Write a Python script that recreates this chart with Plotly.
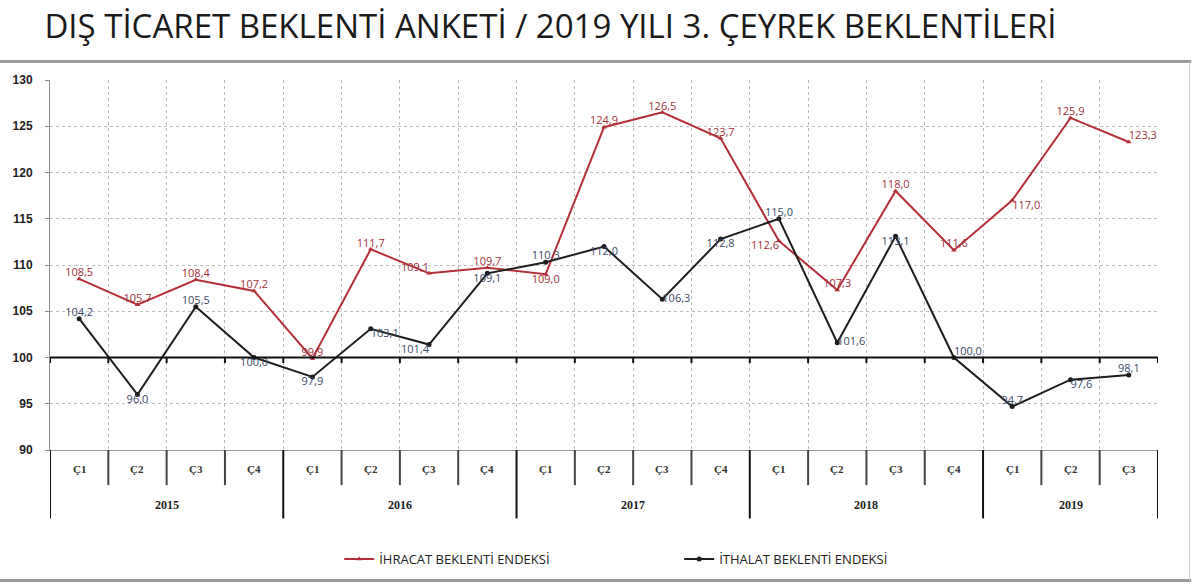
import plotly.graph_objects as go

years = ["2015", "2016", "2017", "2018", "2019"]
quarters_per_year = [4, 4, 4, 4, 3]
quarter_labels = ["Ç1", "Ç2", "Ç3", "Ç4"]

ihracat = [108.5, 105.7, 108.4, 107.2,
           99.9, 111.7, 109.1, 109.7,
           109.0, 124.9, 126.5, 123.7,
           112.6, 107.3, 118.0, 111.6,
           117.0, 125.9, 123.3]
ithalat = [104.2, 96.0, 105.5, 100.0,
           97.9, 103.1, 101.4, 109.1,
           110.3, 112.0, 106.3, 112.8,
           115.0, 101.6, 113.1, 100.0,
           94.7, 97.6, 98.1]

ihracat_pos = ["top center", "top center", "top center", "top center",
               "top center", "top center", "top left", "top center",
               "bottom center", "top center", "top center", "top center",
               "bottom left", "top center", "top center", "top center",
               "bottom right", "top center", "top right"]
ithalat_pos = ["top center", "bottom center", "top center", "bottom center",
               "bottom center", "bottom right", "bottom left", "bottom center",
               "top center", "bottom center", "middle right", "bottom center",
               "top center", "middle right", "bottom center", "top right",
               "top center", "bottom right", "top center"]

RED = "#b3303a"
RED_TXT = "#a3303a"
BLK = "#1e1e1e"
BLU_TXT = "#3d4b66"

qlabels = []
for y, n in zip(years, quarters_per_year):
    qlabels += quarter_labels[:n]
n_pts = len(qlabels)
xs = list(range(n_pts))

def fmt(v):
    return f"{v:.1f}".replace(".", ",")

fig = go.Figure()
fig.add_trace(go.Scatter(x=xs, y=ihracat, mode="lines+markers", name="İHRACAT BEKLENTİ ENDEKSİ",
                         line=dict(color=RED, width=2), marker=dict(size=5, color=RED, symbol="triangle-up")))
fig.add_trace(go.Scatter(x=xs, y=ithalat, mode="lines+markers", name="İTHALAT BEKLENTİ ENDEKSİ",
                         line=dict(color=BLK, width=2), marker=dict(size=5, color=BLK)))
fig.add_trace(go.Scatter(x=xs, y=ihracat, mode="text", text=[fmt(v) for v in ihracat],
                         textposition=ihracat_pos, showlegend=False,
                         textfont=dict(color=RED_TXT, size=11, family="Open Sans")))
fig.add_trace(go.Scatter(x=xs, y=ithalat, mode="text", text=[fmt(v) for v in ithalat],
                         textposition=ithalat_pos, showlegend=False,
                         textfont=dict(color=BLU_TXT, size=11, family="Open Sans")))

shapes = []
# horizontal reference line at 100
shapes.append(dict(type="line", xref="paper", yref="y", x0=0, x1=1, y0=100, y1=100,
                   line=dict(color="#111", width=2)))
bounds = [i - 0.5 for i in range(n_pts + 1)]
for b in bounds:
    shapes.append(dict(type="line", xref="x", yref="y", x0=b, x1=b, y0=100, y1=99.4,
                       line=dict(color="#111", width=2)))
# table lines
year_bounds = [-0.5]
acc = -0.5
for n in quarters_per_year:
    acc += n
    year_bounds.append(acc)
for b in bounds:
    if b in year_bounds:
        continue
    shapes.append(dict(type="line", xref="x", yref="paper", x0=b, x1=b, y0=0, y1=-0.095,
                       line=dict(color="#444", width=2)))
for b in year_bounds:
    shapes.append(dict(type="line", xref="x", yref="paper", x0=b, x1=b, y0=0, y1=-0.185,
                       line=dict(color="#111", width=2)))
# frame lines
shapes.append(dict(type="line", xref="paper", yref="paper", x0=-0.06, x1=1.03, y0=1.05, y1=1.05,
                   line=dict(color="#9a9a9a", width=3)))
shapes.append(dict(type="line", xref="paper", yref="paper", x0=-0.06, x1=1.03, y0=-0.353, y1=-0.353,
                   line=dict(color="#9a9a9a", width=3)))
shapes.append(dict(type="line", xref="paper", yref="paper", x0=1.0285, x1=1.0285, y0=1.05, y1=-0.353,
                   line=dict(color="#cfcfcf", width=1)))

annotations = []
for i, q in enumerate(qlabels):
    annotations.append(dict(x=i, y=-0.05, xref="x", yref="paper", text=f"<b>{q}</b>", showarrow=False,
                            font=dict(size=11, color="#333", family="Liberation Serif"), yanchor="middle"))
start = 0
for y, n in zip(years, quarters_per_year):
    annotations.append(dict(x=start + (n - 1) / 2, y=-0.148, xref="x", yref="paper", text=f"<b>{y}</b>",
                            showarrow=False, font=dict(size=12, color="#222", family="Liberation Serif"),
                            yanchor="middle"))
    start += n

fig.update_layout(
    width=1200, height=586,
    margin=dict(l=50, r=42, t=80, b=134),
    paper_bgcolor="white", plot_bgcolor="white",
    title=dict(text="DIŞ TİCARET BEKLENTİ ANKETİ / 2019 YILI 3. ÇEYREK BEKLENTİLERİ",
               x=0.037, xanchor="left", y=0.955, yanchor="middle",
               font=dict(size=33, color="#1a1a1a", family="Open Sans")),
    showlegend=True,
    legend=dict(orientation="h", x=0.261, xanchor="left", y=-0.295, yanchor="middle",
                entrywidth=295, entrywidthmode="pixels",
                font=dict(size=13, color="#222", family="Open Sans")),
    shapes=shapes, annotations=annotations,
)
fig.update_xaxes(range=[-0.5, n_pts - 0.5], tickvals=bounds, showticklabels=False,
                 showgrid=True, gridcolor="#bdbdbd", griddash="dot", gridwidth=1,
                 showline=True, linecolor="#9a9a9a", linewidth=1, zeroline=False, ticks="")
fig.update_yaxes(range=[90, 130], dtick=5, showgrid=True, gridcolor="#bdbdbd", griddash="dot",
                 showline=True, linecolor="#8a8a8a", linewidth=1, ticks="outside", ticklen=4,
                 tickcolor="#8a8a8a", zeroline=False, ticklabelstandoff=10,
                 tickfont=dict(size=12, color="#222", family="Liberation Sans", weight="bold"))

fig.write_html("out.html")
